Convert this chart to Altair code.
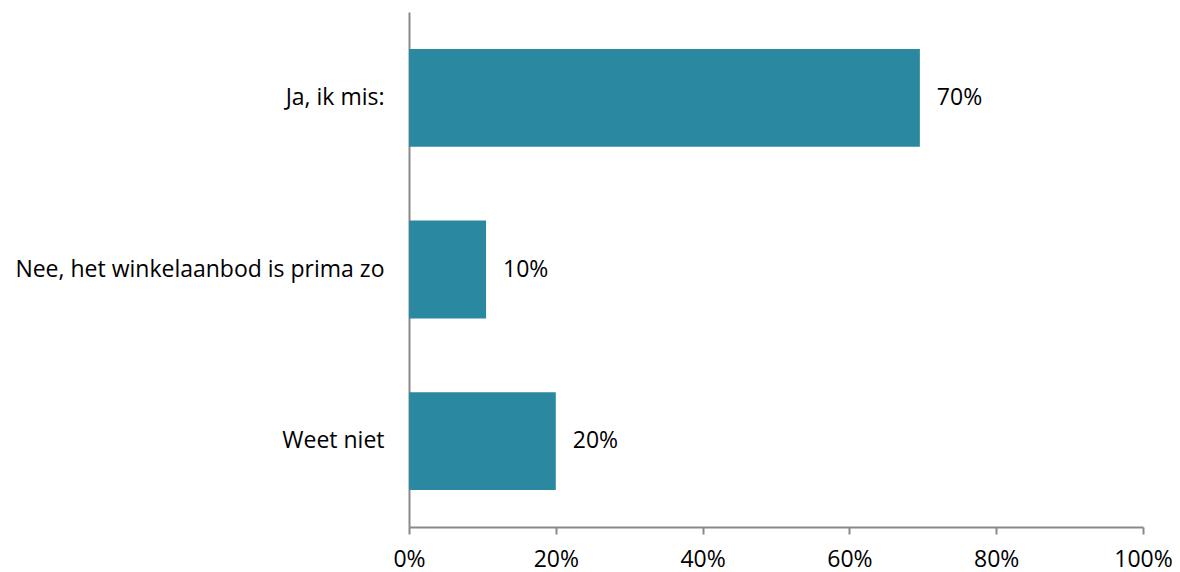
import altair as alt
import pandas as pd

categories = ["Ja, ik mis:", "Nee, het winkelaanbod is prima zo", "Weet niet"]
values = [0.696, 0.105, 0.200]
labels = ["70%", "10%", "20%"]

df = pd.DataFrame({"cat": categories, "val": values, "lab": labels})

FONT = "Open Sans"
FS = 23

y_enc = alt.Y(
    "cat:N",
    sort=categories,
    title=None,
    scale=alt.Scale(paddingInner=0.43, paddingOuter=0.215),
    axis=alt.Axis(
        ticks=False,
        tickSize=0,
        labelPadding=25,
        labelFont=FONT,
        labelFontSize=FS,
        labelColor="#000000",
        labelLimit=600,
        domainColor="#898989",
        domainWidth=2,
        grid=False,
    ),
)

x_enc = alt.X(
    "val:Q",
    title=None,
    scale=alt.Scale(domain=[0, 1], nice=False),
    axis=alt.Axis(
        values=[0, 0.2, 0.4, 0.6, 0.8, 1.0],
        format=".0%",
        grid=False,
        tickSize=7,
        tickWidth=2,
        tickColor="#898989",
        domainColor="#898989",
        domainWidth=2,
        labelPadding=14,
        labelFont=FONT,
        labelFontSize=FS,
        labelColor="#000000",
        labelFlush=False,
    ),
)

bars = alt.Chart(df).mark_bar(color="#2B88A1").encode(x=x_enc, y=y_enc)

text = alt.Chart(df).mark_text(
    align="left", baseline="middle", dx=17, font=FONT, fontSize=FS, color="#000000"
).encode(x="val:Q", y=alt.Y("cat:N", sort=categories), text="lab:N")

chart = (
    alt.layer(bars, text)
    .properties(
        width=734,
        height=515,
        autosize=alt.AutoSizeParams(type="none"),
        padding={"left": 401, "top": 4, "right": 29, "bottom": 45},
    )
    .configure_view(stroke=None)
)

chart.save("out.html", embed_options={"renderer": "svg", "actions": False})
